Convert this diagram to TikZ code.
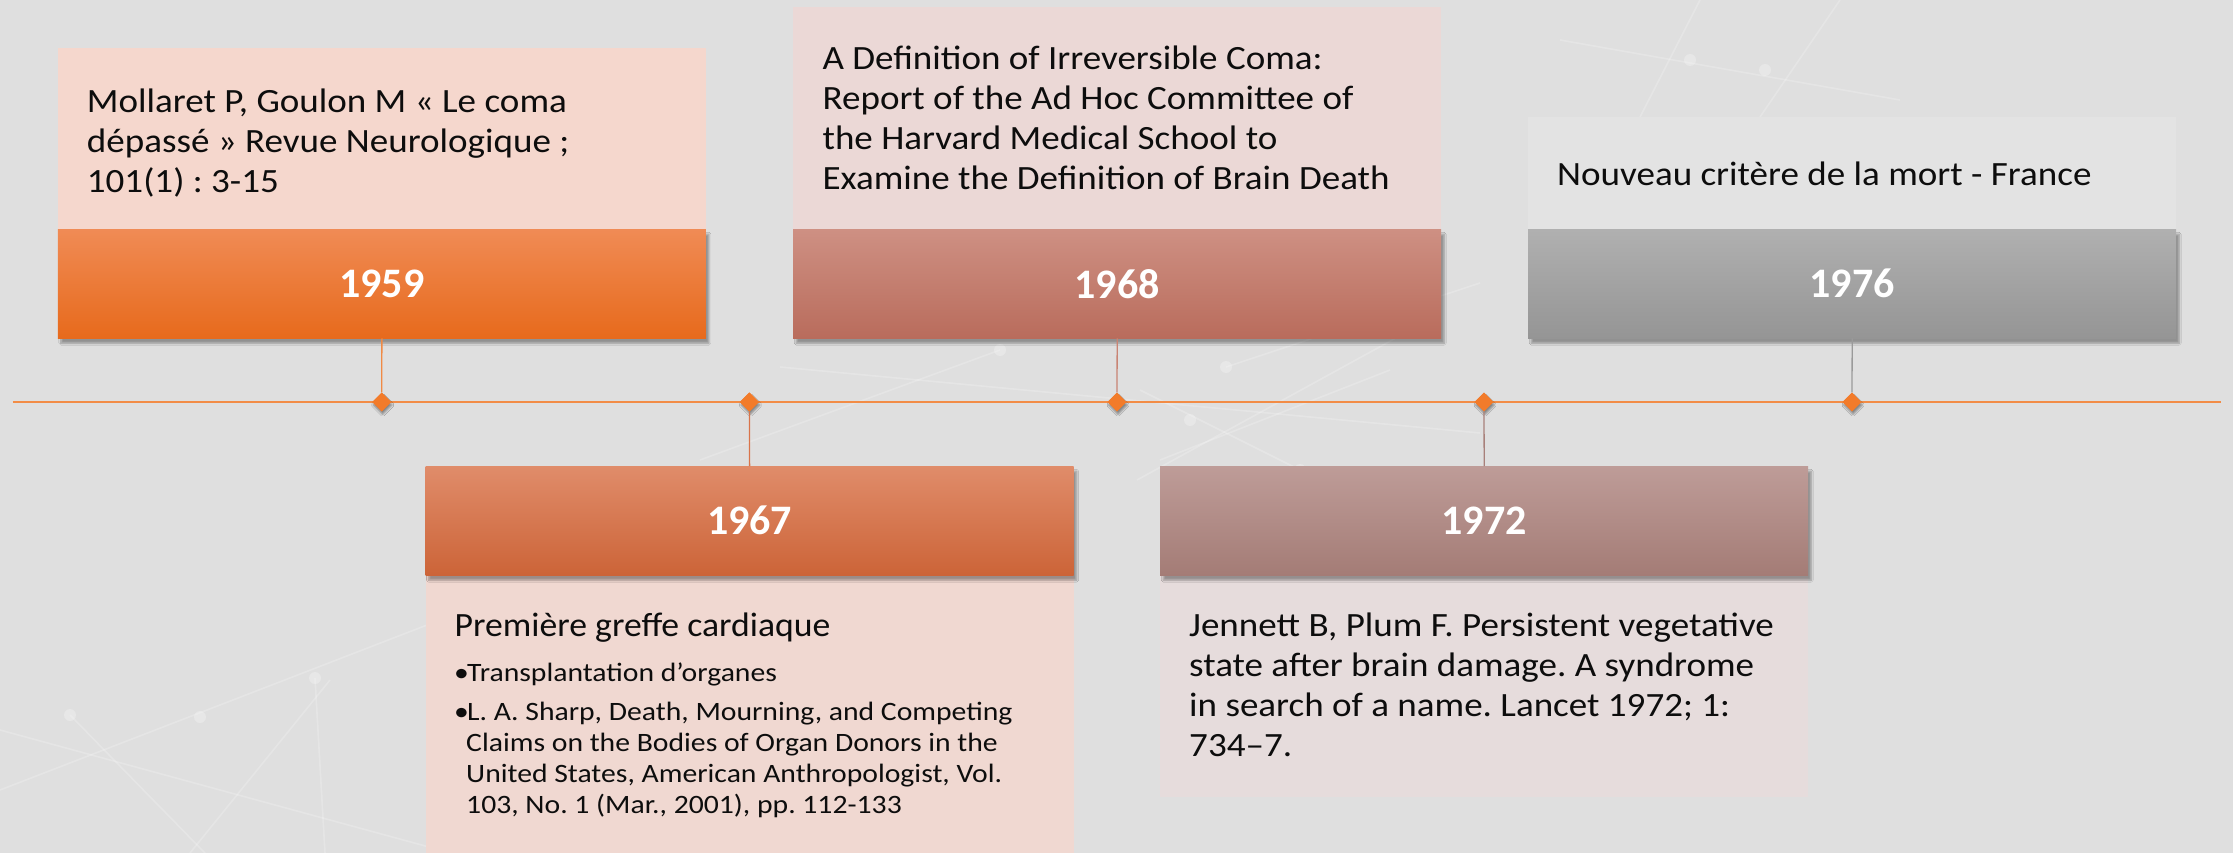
\documentclass[tikz,border=0pt]{standalone}
\usepackage{fontspec}
\setmainfont{Carlito}
\newfontfamily\bodyfont[FakeStretch=1.09]{Carlito}
\newfontfamily\headfont[FakeStretch=1.05]{Carlito}
\newfontfamily\bulletfont[FakeStretch=1.12]{Carlito}
\frenchspacing
\usetikzlibrary{shapes.geometric,shadows.blur}
\definecolor{bgc}{HTML}{DFDFDF}
\definecolor{txtc}{HTML}{0D0D0D}
\definecolor{lineor}{HTML}{F28C46}
\definecolor{diaor}{HTML}{F27B2A}
\definecolor{a59}{HTML}{F5D7CD}
\definecolor{a68}{HTML}{EBD8D6}
\definecolor{a76}{HTML}{E3E3E3}
\definecolor{a67}{HTML}{F0D8D1}
\definecolor{a72}{HTML}{E6DCDC}
\definecolor{c59}{HTML}{F08A45}
\definecolor{c67}{HTML}{D9744A}
\definecolor{c68}{HTML}{C98474}
\definecolor{c72}{HTML}{A8807A}
\definecolor{c76}{HTML}{9A9A9A}
\definecolor{t59}{HTML}{F08B55}\definecolor{m59}{HTML}{F47D2D}\definecolor{b59}{HTML}{E76A1C}
\definecolor{t67}{HTML}{E08C6A}\definecolor{m67}{HTML}{D97A52}\definecolor{b67}{HTML}{CC6438}
\definecolor{t68}{HTML}{CE9083}\definecolor{m68}{HTML}{C87E6F}\definecolor{b68}{HTML}{B96C5C}
\definecolor{t72}{HTML}{BE9C98}\definecolor{m72}{HTML}{B38C87}\definecolor{b72}{HTML}{A47C76}
\definecolor{t76}{HTML}{B0B0B0}\definecolor{m76}{HTML}{A4A4A4}\definecolor{b76}{HTML}{959595}
\begin{document}
\begin{tikzpicture}[x=1pt,y=-1pt,
  area/.style={draw=none, inner sep=0pt, anchor=north west, minimum width=648pt},
  band/.style={inner sep=0pt, anchor=north west, minimum width=648pt, minimum height=109pt,
    text=white, font=\fontsize{42}{50}\selectfont\bfseries,
    blur shadow={shadow xshift=3pt, shadow yshift=-5pt, shadow opacity=35, shadow blur steps=8}},
  dia/.style={shape=diamond, fill=diaor, minimum width=19pt, minimum height=19pt, inner sep=0pt,
    blur shadow={shadow xshift=1pt, shadow yshift=-3pt, shadow opacity=40, shadow blur steps=4}},
  diatop/.style={shape=diamond, fill=diaor, minimum width=19pt, minimum height=19pt, inner sep=0pt},
  conn/.style={line width=1.3pt},
  txt/.style={anchor=north west, inner sep=0pt, align=left, text=txtc, font=\bodyfont\fontsize{34}{40}\selectfont},
  headtxt/.style={anchor=north west, inner sep=0pt, align=left, text=txtc, font=\headfont\fontsize{34}{40}\selectfont},
  smalltxt/.style={anchor=north west, inner sep=0pt, align=left, text=txtc, font=\bulletfont\fontsize{26.5}{31}\selectfont},
  net/.style={white, opacity=0.2, line width=1.6pt},
  netdot/.style={white, opacity=0.25}
]
\useasboundingbox (0,0) rectangle (2233,853);
\fill[bgc] (0,0) rectangle (2233,853);
% faint network background
\draw[net] (0,790) -- (440,620);
\draw[net] (0,730) -- (440,850);
\draw[net] (190,853) -- (330,680);
\draw[net] (315,678) -- (325,853);
\draw[net] (70,715) -- (205,853);
\draw[net] (700,460) -- (1000,350);
\draw[net] (780,367) -- (1480,433);
\draw[net] (1137,480) -- (1405,333);
\draw[net] (1226,367) -- (1480,283);
\draw[net] (1140,390) -- (1300,470);
\draw[net] (1160,460) -- (1390,370);
\draw[net] (1700,0) -- (1640,117);
\draw[net] (1560,40) -- (1900,100);
\draw[net] (1840,0) -- (1760,117);
\foreach \p in {(315,678),(1000,350),(1226,367),(1300,470),(1405,333),(1190,420),(1765,70),(1690,60),(200,717),(70,715)}
  \fill[netdot] \p circle (6);

% timeline
\coordinate (tl) at (12.8,402);
\coordinate (tr) at (2220.7,402);
\draw[lineor, line width=2.4pt] (tl) -- (tr);

% text areas
\node[area, fill=a59, minimum height=181pt] (a1959) at (57.7,48) {};
\node[area, fill=a68, minimum height=222pt] (a1968) at (793,7) {};
\node[area, fill=a76, minimum height=112pt] (a1976) at (1528,117) {};
\node[area, fill=a67, minimum height=279pt] (a1967) at (425.4,574) {};
\node[area, fill=a72, minimum height=223pt] (a1972) at (1160,574) {};

% diamonds (with shadow)
\node[dia] (d1) at (381.7,402) {};
\node[dia] (d2) at (749.4,402) {};
\node[dia] (d3) at (1117,402) {};
\node[dia] (d4) at (1484,402) {};
\node[dia] (d5) at (1852,402) {};

% year bands
\node[band, top color=t59, middle color=m59, bottom color=b59] (y1959) at (57.7,229) {1959};
\node[band, top color=t68, middle color=m68, bottom color=b68] (y1968) at (793,229) {1968};
\node[band, top color=t76, middle color=m76, bottom color=b76] (y1976) at (1528,229) {1976};
\node[band, top color=t67, middle color=m67, bottom color=b67] (y1967) at (425.4,466) {1967};
\node[band, top color=t72, middle color=m72, bottom color=b72] (y1972) at (1160,466) {1972};

% connectors
\draw[conn, c59] (y1959.south) -- (d1.north);
\draw[conn, c67] (d2.south) -- (y1967.north);
\draw[conn, c68] (y1968.south) -- (d3.north);
\draw[conn, c72] (d4.south) -- (y1972.north);
\draw[conn, c76] (y1976.south) -- (d5.north);

% diamonds again, above the connectors
\node[diatop] (dd1) at (d1) {};
\node[diatop] (dd2) at (d2) {};
\node[diatop] (dd3) at (d3) {};
\node[diatop] (dd4) at (d4) {};
\node[diatop] (dd5) at (d5) {};

% texts
\node[txt] (t1959) at (86.7,84) {\strut Mollaret P, Goulon M « Le coma\\dépassé » Revue Neurologique ;\\101(1) : 3-15};
\node[txt] (t1968) at (822.4,41) {\strut A Definition of Irreversible Coma:\\Report of the Ad Hoc Committee of\\the Harvard Medical School to\\Examine the Definition of Brain Death};
\node[txt] (t1976) at (1557,157) {\strut Nouveau critère de la mort - France};
\node[headtxt] (t1967) at (454.5,608) {\strut Première greffe cardiaque};
\node[smalltxt] (t1967b) at (454,660) {\strut\makebox[13pt][l]{•}Transplantation d’organes\\[8pt]\makebox[13pt][l]{•}L. A. Sharp, Death, Mourning, and Competing\\\hspace*{12pt}Claims on the Bodies of Organ Donors in the\\\hspace*{12pt}United States, American Anthropologist, Vol.\\\hspace*{12pt}103, No. 1 (Mar., 2001), pp. 112-133};
\node[txt] (t1972) at (1189,608) {\strut Jennett B, Plum F. Persistent vegetative\\state after brain damage. A syndrome\\in search of a name. Lancet 1972; 1:\\734–7.};
\end{tikzpicture}
\end{document}
